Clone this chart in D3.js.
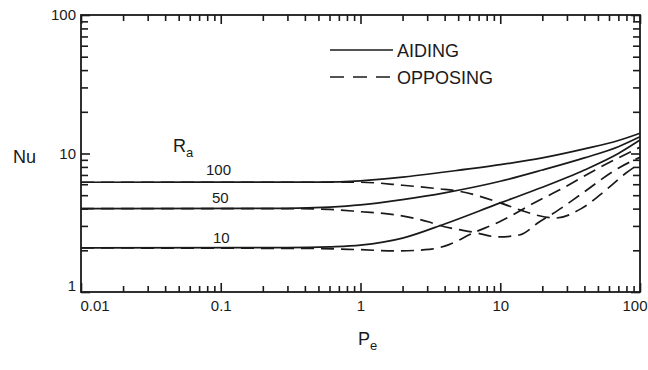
<!DOCTYPE html>
<html>
<head>
<meta charset="utf-8">
<script src="https://cdn.jsdelivr.net/npm/d3@7"></script>
<style>
  body { margin: 0; background: #fff; }
  svg text { font-family: "Liberation Sans", Arial, sans-serif; fill: #1a1a1a; }
</style>
</head>
<body>
<div id="chart"></div>
<script>
// Ra values of the three curve families
const raLabels = ["100", "50", "10"];

// aiding flow (solid)
const aidPe100 = [0.01, 0.5, 1, 2, 4, 10, 20, 40, 70, 100];
const aidNu100 = [6.2, 6.22, 6.35, 6.75, 7.35, 8.3, 9.3, 10.8, 12.4, 14];
const aidPe50 = [0.01, 0.3, 0.6, 1, 2, 4, 10, 20, 40, 70, 100];
const aidNu50 = [4.0, 4.02, 4.1, 4.25, 4.65, 5.2, 6.3, 7.6, 9.3, 11.2, 13.2];
const aidPe10 = [0.01, 0.3, 0.6, 1, 2, 4, 10, 20, 40, 70, 100];
const aidNu10 = [2.08, 2.09, 2.12, 2.18, 2.45, 3.1, 4.4, 5.7, 7.6, 10, 12.5];

// opposing flow (dashed)
const oppPe100 = [0.01, 0.5, 1, 2, 3.7, 5, 10, 14, 19, 25, 38, 57, 79, 100];
const oppNu100 = [6.2, 6.2, 6.2, 5.9, 5.55, 5.35, 4.4, 3.9, 3.55, 3.42, 4.0, 5.45, 7.2, 8.5];
const oppPe50 = [0.01, 0.3, 0.6, 1, 1.8, 3.1, 3.7, 6.3, 9.8, 13.7, 19, 26, 37, 71, 100];
const oppNu50 = [4.0, 4.0, 3.95, 3.8, 3.6, 3.2, 3.02, 2.71, 2.5, 2.58, 3.2, 3.9, 5.0, 7.9, 9.4];
const oppPe10 = [0.01, 0.5, 1, 1.8, 3.1, 4.3, 6.3, 9.8, 19, 26, 50, 100];
const oppNu10 = [2.08, 2.06, 2.02, 1.98, 2.03, 2.2, 2.65, 3.2, 4.6, 5.4, 7.8, 11.1];

// axis ticks
const xMajor = [0.01, 0.1, 1, 10, 100];
const xMajorLabels = ["0.01", "0.1", "1", "10", "100"];
const yMajor = [1, 10, 100];
const yMajorLabels = ["1", "10", "100"];

const width = 648, height = 370;
const plotL = 81, plotR = 640, plotT = 15, plotB = 292;
const ink = "#1a1a1a";

const svg = d3.select("#chart").append("svg")
  .attr("width", width)
  .attr("height", height);

const x = d3.scaleLog().domain([0.01, 100]).range([plotL, plotR]);
const y = d3.scaleLog().domain([1, 100]).range([plotB, plotT]);

// minor ticks 2..9 in each decade
const minorOf = (decades) => decades.flatMap(d => d3.range(2, 10).map(k => d * k));
const xMinor = minorOf([0.01, 0.1, 1, 10]);
const yMinor = minorOf([1, 10]);

function styleAxis(g) {
  g.select(".domain").remove();
  g.selectAll(".tick line").attr("stroke", ink).attr("stroke-width", 1.6);
  g.selectAll("text").attr("font-size", 15).attr("fill", ink);
}

// bottom axis
svg.append("g").attr("transform", `translate(0,${plotB})`)
  .call(d3.axisBottom(x).tickValues(xMinor).tickSize(-6).tickFormat(() => ""))
  .call(styleAxis);
svg.append("g").attr("transform", `translate(0,${plotB})`)
  .call(d3.axisBottom(x).tickValues(xMajor).tickSize(-9).tickPadding(8)
    .tickFormat((d, i) => xMajorLabels[i]))
  .call(styleAxis)
  .call(g => g.select(".tick text").attr("text-anchor", "start").attr("dx", -1))
  .call(g => g.selectAll(".tick text").filter(d => d === 100).attr("text-anchor", "end").attr("dx", 7));

// top axis
svg.append("g").attr("transform", `translate(0,${plotT})`)
  .call(d3.axisTop(x).tickValues(xMinor).tickSize(-6).tickFormat(() => ""))
  .call(styleAxis);
svg.append("g").attr("transform", `translate(0,${plotT})`)
  .call(d3.axisTop(x).tickValues(xMajor).tickSize(-9).tickFormat(() => ""))
  .call(styleAxis);

// left axis
svg.append("g").attr("transform", `translate(${plotL},0)`)
  .call(d3.axisLeft(y).tickValues(yMinor).tickSize(-7).tickFormat(() => ""))
  .call(styleAxis);
svg.append("g").attr("transform", `translate(${plotL},0)`)
  .call(d3.axisLeft(y).tickValues(yMajor).tickSize(-9).tickPadding(5)
    .tickFormat((d, i) => yMajorLabels[i]))
  .call(styleAxis)
  .call(g => g.selectAll(".tick text").filter(d => d === 1).attr("dy", "-0.1em"));

// right axis
svg.append("g").attr("transform", `translate(${plotR},0)`)
  .call(d3.axisRight(y).tickValues(yMinor).tickSize(-7).tickFormat(() => ""))
  .call(styleAxis);
svg.append("g").attr("transform", `translate(${plotR},0)`)
  .call(d3.axisRight(y).tickValues(yMajor).tickSize(-9).tickFormat(() => ""))
  .call(styleAxis);

// frame
svg.append("rect")
  .attr("x", plotL).attr("y", plotT)
  .attr("width", plotR - plotL).attr("height", plotB - plotT)
  .attr("fill", "none").attr("stroke", ink).attr("stroke-width", 1.8);

// curves
const line = d3.line()
  .x(d => x(d[0]))
  .y(d => y(d[1]))
  .curve(d3.curveMonotoneX);

const series = [
  { pe: aidPe100, nu: aidNu100, dash: null },
  { pe: aidPe50, nu: aidNu50, dash: null },
  { pe: aidPe10, nu: aidNu10, dash: null },
  { pe: oppPe100, nu: oppNu100, dash: "13,7" },
  { pe: oppPe50, nu: oppNu50, dash: "13,7" },
  { pe: oppPe10, nu: oppNu10, dash: "13,7" }
];

svg.selectAll("path.curve")
  .data(series)
  .enter()
  .append("path")
  .attr("class", "curve")
  .attr("d", s => line(d3.zip(s.pe, s.nu)))
  .attr("fill", "none")
  .attr("stroke", ink)
  .attr("stroke-width", 1.7)
  .attr("stroke-dasharray", s => s.dash);

// curve labels (Ra values)
const labelX = [206, 212, 213];
const labelY = [175, 203, 243];
svg.selectAll("text.ra")
  .data(raLabels)
  .enter()
  .append("text")
  .attr("class", "ra")
  .attr("x", (d, i) => labelX[i])
  .attr("y", (d, i) => labelY[i])
  .attr("font-size", 15)
  .text(d => d);

const raTitle = svg.append("text").attr("x", 173).attr("y", 152).attr("font-size", 18);
raTitle.append("tspan").text("R");
raTitle.append("tspan").attr("font-size", 13).attr("dy", 5).text("a");

// legend
const legend = svg.append("g");
legend.append("line")
  .attr("x1", 330).attr("x2", 393).attr("y1", 50).attr("y2", 50)
  .attr("stroke", ink).attr("stroke-width", 1.7);
legend.append("line")
  .attr("x1", 330).attr("x2", 393).attr("y1", 77).attr("y2", 77)
  .attr("stroke", ink).attr("stroke-width", 1.7)
  .attr("stroke-dasharray", "14,9");
legend.append("text").attr("x", 397).attr("y", 57).attr("font-size", 18).text("AIDING");
legend.append("text").attr("x", 397).attr("y", 84).attr("font-size", 18).text("OPPOSING");

// axis titles
svg.append("text").attr("x", 13).attr("y", 163).attr("font-size", 18).text("Nu");
const peTitle = svg.append("text").attr("x", 358).attr("y", 345).attr("font-size", 18);
peTitle.append("tspan").text("P");
peTitle.append("tspan").attr("font-size", 13).attr("dy", 5).text("e");
</script>
</body>
</html>
